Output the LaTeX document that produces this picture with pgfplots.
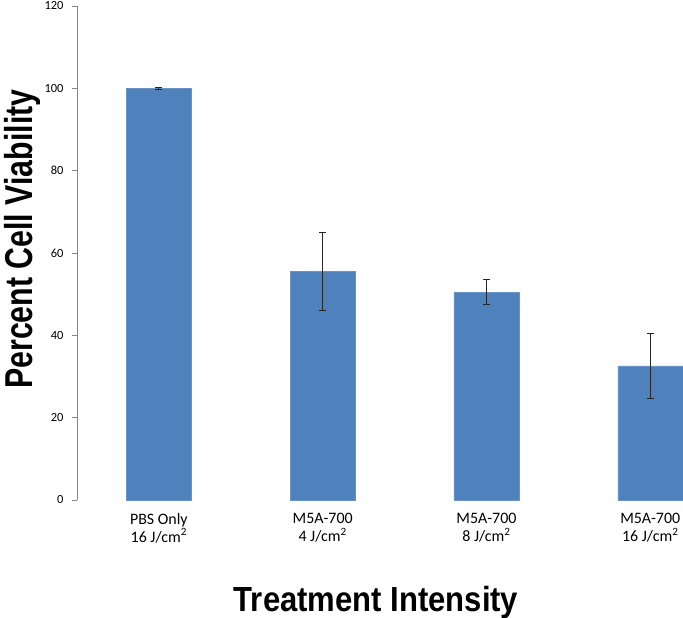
\documentclass[border=0pt]{standalone}
\usepackage{pgfplots}
\pgfplotsset{compat=1.18}
\usepackage{pgfplotstable}
\usepackage{fontspec}
\setmainfont{Carlito}
\newfontfamily\titlefont{Liberation Sans}
\definecolor{barblue}{HTML}{4F81BD}
\definecolor{axisgray}{HTML}{868686}

\pgfplotstableread{
x y e
0 100.0 0.2
1 55.5 9.5
2 50.5 3.0
3 32.6 7.9
}\viability

\begin{document}
\begin{tikzpicture}[x=1bp,y=1bp]
\useasboundingbox (-77,-118) rectangle (606,500);
\begin{axis}[
  at={(0,0)}, anchor=south west,
  scale only axis, width=606bp, height=494bp,
  xmin=-0.5, xmax=3.2, ymin=0, ymax=120,
  axis lines*=left,
  x axis line style={draw=none},
  y axis line style={axisgray, line width=0.8bp},
  ytick={0,20,...,120},
  tick align=outside,
  major tick length=5bp,
  ytick style={axisgray, line width=0.8bp},
  xtick style={draw=none},
  xtick={0,1,2,3},
  xticklabels={{PBS Only\\16 J/cm\textsuperscript{2}},{M5A-700\\4 J/cm\textsuperscript{2}},{M5A-700\\8 J/cm\textsuperscript{2}},{M5A-700\\16 J/cm\textsuperscript{2}}},
  xticklabel style={align=center, font=\fontsize{16}{17.5}\selectfont, yshift=-5bp},
  yticklabel style={font=\fontsize{12.5}{14}\selectfont, xshift=-5bp},
  /pgf/number format/assume math mode=true,
  xlabel={\scalebox{0.89}[1]{\titlefont\bfseries\fontsize{35}{40}\selectfont Treatment Intensity}},
  xlabel style={at={(axis description cs:0.4934,-0.2267)}, anchor=base},
  ylabel={\scalebox{0.78}[1]{\titlefont\bfseries\fontsize{39}{46}\selectfont Percent Cell Viability}},
  ylabel style={at={(axis description cs:-0.0742,0.528)}, anchor=base, rotate=0},
  clip=false,
]
\addplot[ybar, bar width=65bp, fill=barblue, draw=barblue!85!white,
  error bars/.cd, y dir=both, y explicit,
  error bar style={black!85, line width=0.9bp},
  error mark options={rotate=90, mark size=3.5bp, black!85, line width=0.9bp}]
  table[x=x, y=y, y error=e] {\viability};
\end{axis}
\end{tikzpicture}
\end{document}
